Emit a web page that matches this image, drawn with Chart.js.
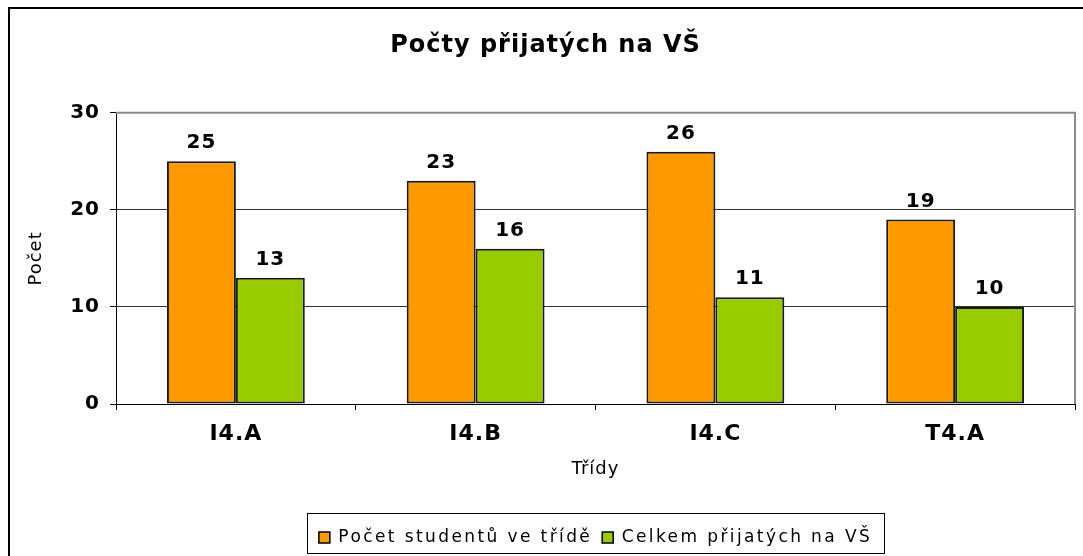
<!DOCTYPE html>
<html>
<head>
<meta charset="utf-8">
<script src="https://cdn.jsdelivr.net/npm/chart.js@4"></script>
<style>
  html, body { margin: 0; padding: 0; background: #fff; }
  #wrap { width: 1083px; height: 556px; }
</style>
</head>
<body>
<div id="wrap"><canvas id="myChart" width="1083" height="556"></canvas></div>
<script>
// data
var tridy = ['I4.A', 'I4.B', 'I4.C', 'T4.A'];
var pocetStudentu = [25, 23, 26, 19];
var prijatoVS = [13, 16, 11, 10];
var yTicks = [0, 10, 20, 30];

var FONT = "'DejaVu Sans', Verdana, sans-serif";

// Excel-like extras: outer frame, gray plot border, value labels, legend box
var excelLook = {
    id: 'excelLook',
    afterInit: function(chart) {
        // legend text is spaced wider than the rest
        var lg = chart.legend;
        ['fit', 'draw'].forEach(function(m) {
            var orig = lg[m];
            lg[m] = function() {
                var c = chart.ctx;
                var old = c.letterSpacing;
                c.letterSpacing = '2.4px';
                var r = orig.apply(this, arguments);
                c.letterSpacing = old;
                return r;
            };
        });
    },
    beforeUpdate: function(chart) {
        chart.ctx.letterSpacing = '1px';
    },
    beforeDraw: function(chart) {
        var ctx = chart.ctx;
        ctx.letterSpacing = '1px';
        ctx.save();
        ctx.strokeStyle = '#000';
        ctx.lineWidth = 2;
        ctx.strokeRect(9, 8, 2000, 2000);
        ctx.restore();
    },
    beforeDatasetsDraw: function(chart) {
        var ctx = chart.ctx;
        var a = chart.chartArea;
        ctx.save();
        ctx.strokeStyle = '#8c8c8c';
        ctx.lineWidth = 2;
        ctx.beginPath();
        ctx.moveTo(a.left, a.top);
        ctx.lineTo(a.right, a.top);
        ctx.lineTo(a.right, a.bottom);
        ctx.stroke();
        ctx.restore();
    },
    afterDatasetsDraw: function(chart) {
        var ctx = chart.ctx;
        ctx.save();
        ctx.font = 'bold 20px ' + FONT;
        ctx.fillStyle = '#000';
        ctx.textAlign = 'center';
        ctx.textBaseline = 'alphabetic';
        chart.data.datasets.forEach(function(ds, i) {
            chart.getDatasetMeta(i).data.forEach(function(bar, j) {
                ctx.fillText(String(ds.data[j]), bar.x, bar.y - 13);
            });
        });
        ctx.restore();
    },
    afterDraw: function(chart) {
        var boxes = chart.legend.legendHitBoxes;
        if (!boxes || !boxes.length) return;
        var first = boxes[0], last = boxes[boxes.length - 1];
        var left = first.left - 12;
        var right = last.left + last.width + 12;
        var mid = first.top + first.height / 2;
        var ctx = chart.ctx;
        ctx.save();
        ctx.strokeStyle = '#000';
        ctx.lineWidth = 1;
        ctx.strokeRect(Math.round(left) + 0.5, Math.round(mid - 25) + 0.5, Math.round(right - left), 40);
        ctx.restore();
    }
};

var ctx = document.getElementById('myChart');
var myChart = new Chart(ctx, {
    type: 'bar',
    data: {
        labels: tridy,
        datasets: [{
            label: 'Počet studentů ve třídě',
            data: pocetStudentu,
            backgroundColor: '#FF9900',
            borderColor: '#1a1a1a',
            borderWidth: 2,
            borderSkipped: false
        }, {
            label: 'Celkem přijatých na VŠ',
            data: prijatoVS,
            backgroundColor: '#99CC00',
            borderColor: '#1a1a1a',
            borderWidth: 2,
            borderSkipped: false
        }]
    },
    options: {
        responsive: false,
        animation: false,
        layout: {
            padding: { left: 16, right: 8, top: 0, bottom: 0 }
        },
        datasets: {
            bar: { categoryPercentage: 0.575, barPercentage: 1 }
        },
        plugins: {
            title: {
                display: true,
                text: 'Počty přijatých na VŠ',
                color: '#000',
                font: { family: FONT, size: 24, weight: 'bold' },
                padding: { top: 31, bottom: 53 }
            },
            legend: {
                position: 'bottom',
                fullSize: false,
                labels: {
                    color: '#000',
                    font: { family: FONT, size: 17 },
                    boxWidth: 11,
                    boxHeight: 11,
                    padding: 10,
                    generateLabels: function(chart) {
                        return chart.data.datasets.map(function(ds, i) {
                            return {
                                text: ds.label,
                                fillStyle: ds.backgroundColor,
                                strokeStyle: '#000',
                                lineWidth: 1.5,
                                datasetIndex: i,
                                fontColor: '#000'
                            };
                        });
                    }
                }
            },
            tooltip: { enabled: false }
        },
        scales: {
            x: {
                afterFit: function(scale) { scale.height = 115; },
                grid: {
                    drawOnChartArea: false,
                    drawTicks: true,
                    tickLength: 6,
                    color: '#000'
                },
                border: { color: '#000', width: 1 },
                ticks: {
                    color: '#000',
                    padding: 11,
                    font: { family: FONT, size: 22, weight: 'bold' }
                },
                title: {
                    display: true,
                    text: 'Třídy',
                    color: '#000',
                    font: { family: FONT, size: 18 },
                    padding: { top: 0, bottom: 39 }
                }
            },
            y: {
                min: yTicks[0],
                max: yTicks[yTicks.length - 1],
                afterFit: function(scale) { scale.width = 100; },
                afterBuildTicks: function(scale) {
                    scale.ticks = yTicks.map(function(v) { return { value: v }; });
                },
                grid: {
                    color: function(c) { return c.tick && c.tick.value === 30 ? '#8c8c8c' : '#333'; },
                    tickColor: '#000',
                    tickLength: 6,
                    lineWidth: 1
                },
                border: { color: '#000', width: 1 },
                ticks: {
                    color: '#000',
                    padding: 10,
                    font: { family: FONT, size: 20, weight: 'bold' }
                },
                title: {
                    display: true,
                    text: 'Počet',
                    color: '#000',
                    font: { family: FONT, size: 18 },
                    padding: { top: 10, bottom: 0 }
                }
            }
        }
    },
    plugins: [excelLook]
});
</script>
</body>
</html>
